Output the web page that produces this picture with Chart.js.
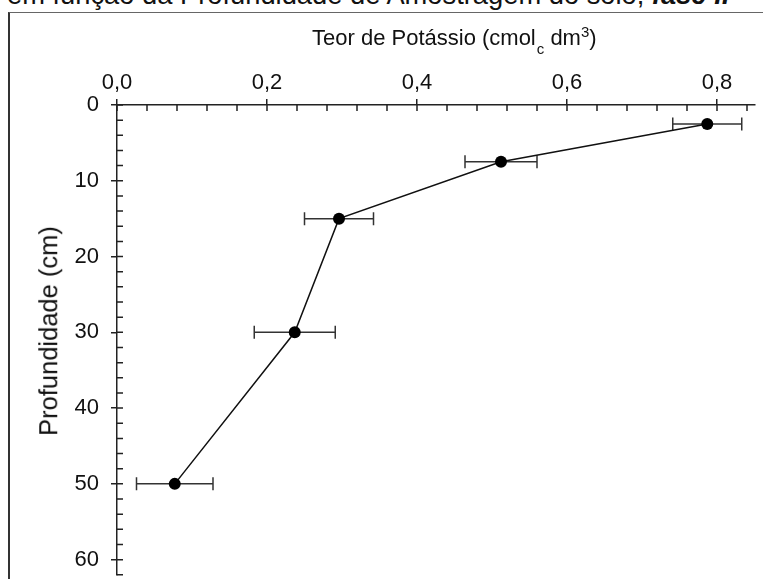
<!DOCTYPE html>
<html lang="pt">
<head>
<meta charset="utf-8">
<title>Teor de Potássio x Profundidade</title>
<script src="https://cdn.jsdelivr.net/npm/chart.js@4.4.1/dist/chart.umd.min.js"></script>
<style>
	html, body { margin: 0; padding: 0; background: #fff; overflow: hidden; }
	body { width: 763px; height: 579px; position: relative; font-family: "Liberation Sans", Arial, sans-serif; color: #111; }
	.caption { position: absolute; left: 7px; top: -19px; font-size: 27.3px; line-height: 27.3px; white-space: nowrap; }
	.caption b { font-style: italic; }
	.frame { position: absolute; left: 8px; top: 12px; width: 820px; height: 620px; border-left: 2px solid #333; border-top: 1.5px solid #666; }
	.x-title { position: absolute; left: 312px; top: 27px; font-size: 22px; line-height: 22px; white-space: nowrap; }
	.x-title sub, .x-title sup { font-size: 15px; vertical-align: baseline; position: relative; }
	.x-title sub { top: 9px; margin-left: 1px; }
	.x-title sup { top: -8px; }
	.y-title { position: absolute; left: 49px; top: 331px; font-size: 25.5px; line-height: 1; white-space: nowrap; transform: translate(-50%, -50%) rotate(-90deg); }
	#chart { position: absolute; left: 0; top: 0; }
</style>
</head>
<body>
<div class="caption">em função da Profundidade de Amostragem do solo, <b>fase I.</b></div>
<div class="frame"></div>
<canvas id="chart" width="763" height="600"></canvas>
<div class="x-title">Teor de Potássio (cmol<sub>c</sub> dm<sup>3</sup>)</div>
<div class="y-title">Profundidade (cm)</div>
<script>
// Depth of each sample (cm) and mean potassium content with its error
const depth = [2.5, 7.5, 15, 30, 50];
const potassium = [0.787, 0.512, 0.296, 0.237, 0.077];
const potassiumError = [0.046, 0.048, 0.046, 0.054, 0.051];

// Labelled ticks (the rest are small unlabelled ones)
const xTickLabels = [0, 0.2, 0.4, 0.6, 0.8];
const yTickLabels = [0, 10, 20, 30, 40, 50, 60];

const fontFamily = '"Liberation Sans", Arial, sans-serif';
const axisColor = '#222';

const isLabelled = (list, value) => list.some((t) => Math.abs(t - value) < 1e-6);

// Horizontal error bars with caps
const errorBars = {
	id: 'errorBars',
	beforeDatasetsDraw(chart) {
		const { ctx, scales: { x, y } } = chart;
		ctx.save();
		ctx.strokeStyle = '#333';
		ctx.lineWidth = 1.5;
		ctx.beginPath();
		depth.forEach((d, i) => {
			const py = y.getPixelForValue(d);
			const x1 = x.getPixelForValue(potassium[i] - potassiumError[i]);
			const x2 = x.getPixelForValue(potassium[i] + potassiumError[i]);
			ctx.moveTo(x1, py);
			ctx.lineTo(x2, py);
			ctx.moveTo(x1, py - 6.5);
			ctx.lineTo(x1, py + 6.5);
			ctx.moveTo(x2, py - 6.5);
			ctx.lineTo(x2, py + 6.5);
		});
		ctx.stroke();
		ctx.restore();
	}
};

// Tick marks pointing into the plot area
const innerTicks = {
	id: 'innerTicks',
	beforeDatasetsDraw(chart) {
		const { ctx, chartArea, scales: { x, y } } = chart;
		ctx.save();
		ctx.strokeStyle = axisColor;
		ctx.lineWidth = 1.5;
		ctx.beginPath();
		x.ticks.forEach((t) => {
			const px = x.getPixelForValue(t.value);
			ctx.moveTo(px, chartArea.top);
			ctx.lineTo(px, chartArea.top + 6);
		});
		y.ticks.forEach((t) => {
			const py = y.getPixelForValue(t.value);
			ctx.moveTo(chartArea.left, py);
			ctx.lineTo(chartArea.left + 6, py);
		});
		ctx.stroke();
		ctx.restore();
	}
};

new Chart(document.getElementById('chart'), {
	type: 'scatter',
	data: {
		datasets: [{
			label: 'K',
			data: depth.map((d, i) => ({ x: potassium[i], y: d })),
			showLine: true,
			borderColor: '#111',
			borderWidth: 1.5,
			pointRadius: 6,
			pointBackgroundColor: '#000',
			pointBorderColor: '#000',
			pointBorderWidth: 0
		}]
	},
	options: {
		responsive: false,
		animation: false,
		layout: {
			padding: { left: 0, top: 0, right: 8.5, bottom: 18.6 }
		},
		plugins: {
			legend: { display: false },
			tooltip: { enabled: false }
		},
		scales: {
			x: {
				type: 'linear',
				position: 'top',
				min: 0,
				max: 0.85,
				afterFit: (scale) => { scale.height = 105; },
				border: { display: true, color: axisColor, width: 1.5 },
				grid: {
					drawOnChartArea: false,
					drawTicks: true,
					tickLength: 6,
					lineWidth: 1.5,
					color: (ctx) => (ctx.tick && isLabelled(xTickLabels, ctx.tick.value)) ? axisColor : 'rgba(0,0,0,0)'
				},
				ticks: {
					stepSize: 0.04,
					autoSkip: false,
					includeBounds: false,
					maxRotation: 0,
					padding: 3,
					color: '#111',
					font: { family: fontFamily, size: 22 },
					callback: (v) => isLabelled(xTickLabels, v) ? v.toFixed(1).replace('.', ',') : ''
				}
			},
			y: {
				type: 'linear',
				position: 'left',
				reverse: true,
				min: 0,
				max: 62,
				afterFit: (scale) => { scale.width = 117; },
				border: { display: true, color: axisColor, width: 1.5 },
				grid: {
					drawOnChartArea: false,
					drawTicks: true,
					tickLength: 6,
					lineWidth: 1.5,
					color: (ctx) => (ctx.tick && isLabelled(yTickLabels, ctx.tick.value)) ? axisColor : 'rgba(0,0,0,0)'
				},
				ticks: {
					stepSize: 2,
					autoSkip: false,
					includeBounds: false,
					padding: 12,
					color: '#111',
					font: { family: fontFamily, size: 22 },
					callback: (v) => isLabelled(yTickLabels, v) ? String(v) : ''
				}
			}
		}
	},
	plugins: [errorBars, innerTicks]
});
</script>
</body>
</html>
